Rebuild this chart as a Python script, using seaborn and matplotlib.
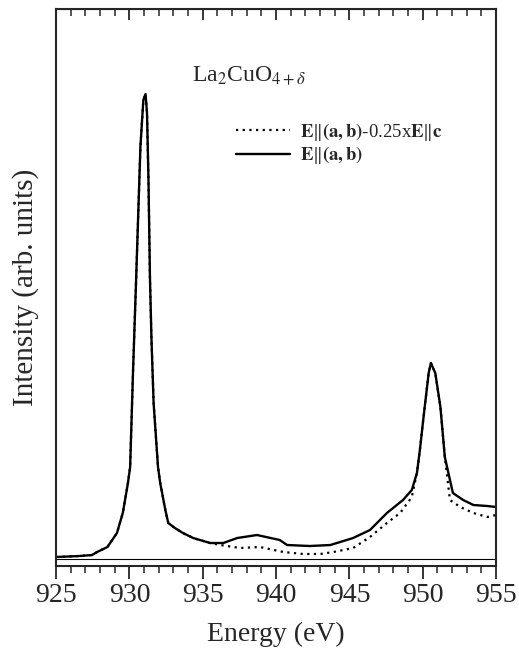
import numpy as np
import pandas as pd
import matplotlib
matplotlib.use("Agg")
import matplotlib.pyplot as plt
import seaborn as sns


# 1 DATA

energy_solid = [925.0, 926.6, 927.45, 927.8, 928.5, 929.15, 929.55, 929.9, 930.05,
                930.25, 930.45, 930.75, 930.95, 931.1, 931.2, 931.3, 931.4, 931.5,
                931.65, 931.95, 932.1, 932.45, 932.65, 933.1, 933.65, 934.35, 935.5,
                936.4, 937.35, 938.7, 940.25, 940.75, 942.3, 943.7, 945.25, 946.4,
                947.55, 948.65, 949.25, 949.6, 949.8, 950.05, 950.4, 950.55, 950.85,
                951.2, 951.5, 952.05, 952.75, 953.45, 954.4, 955.0]
intensity_solid = [2, 3, 4, 7, 12, 26, 46, 76, 92,
                   189, 276, 412, 459, 465, 446, 379, 282, 222,
                   156, 92, 76, 49, 36, 31, 26, 21, 16,
                   16, 21, 24, 19, 14, 13, 14, 21, 29,
                   46, 59, 69, 86, 109, 142, 186, 196, 186,
                   152, 102, 66, 59, 54, 53, 52]

energy_diff = [925.0, 926.6, 927.45, 927.8, 928.5, 929.15, 929.55, 929.9, 930.05,
               930.25, 930.45, 930.75, 930.95, 931.1, 931.2, 931.3, 931.4, 931.5,
               931.65, 931.95, 932.1, 932.45, 932.65, 933.1, 933.65, 934.35, 935.5,
               936.2, 937.55, 938.9, 940.5, 941.85, 943.0, 943.9, 945.25, 946.4,
               947.55, 948.45, 949.25, 949.6, 949.8, 950.05, 950.4, 950.55, 950.85,
               951.2, 951.5, 951.85, 952.55, 953.45, 954.4, 955.0]
intensity_diff = [2, 3, 4, 7, 12, 26, 46, 76, 92,
                  189, 276, 412, 459, 465, 446, 379, 282, 222,
                  156, 92, 76, 49, 36, 31, 26, 21, 16,
                  14, 11, 12, 7, 5, 5, 7, 11, 22,
                  36, 46, 62, 86, 109, 142, 186, 196, 186,
                  152, 102, 59, 52, 46, 42, 44]

label_diff = r"$\mathbf{E}\Vert\mathbf{(a,b)}$-0.25x$\mathbf{E}\Vert\mathbf{c}$"
label_solid = r"$\mathbf{E}\Vert\mathbf{(a,b)}$"


# 2 STYLE

sns.set_style("ticks")
plt.rcParams["font.family"] = ["Liberation Serif", "DejaVu Serif"]
plt.rcParams["mathtext.fontset"] = "stix"


# 3 PLOT

fig = plt.figure(figsize=(5.19, 6.61), dpi=100)
ax = fig.add_axes([0.108, 0.1437, 0.848, 0.8427])

sns.lineplot(x=energy_diff, y=intensity_diff, ax=ax, color="black",
             linestyle=(0, (1, 2)), linewidth=1.6, label=label_diff)
sns.lineplot(x=energy_solid, y=intensity_solid, ax=ax, color="black",
             linewidth=1.7, label=label_solid)

ax.axhline(0, color="black", linewidth=0.8)

ax.set_xlim(925, 955)
ax.set_ylim(-7, 550)
ax.set_xticks(np.arange(925, 956, 5))
ax.set_xticks(np.arange(925, 956, 1), minor=True)
ax.set_yticks([])
ax.tick_params(axis="x", which="major", direction="out", length=9, width=1.3,
               labelsize=20, pad=3)
ax.tick_params(axis="x", which="minor", direction="out", length=5, width=1.1)

top = ax.secondary_xaxis("top")
top.set_xticks(np.arange(925, 956, 5))
top.set_xticks(np.arange(925, 956, 1), minor=True)
top.tick_params(axis="x", which="major", direction="in", length=8, width=1.3,
                labeltop=False)
top.tick_params(axis="x", which="minor", direction="in", length=5, width=1.1)

for s in ax.spines.values():
    s.set_linewidth(1.5)

ax.set_xlabel("Energy (eV)", fontsize=20, labelpad=10)
ax.set_ylabel("Intensity (arb. units)", fontsize=21, labelpad=12)

ax.text(0.31, 0.87, r"La$_2$CuO$_{4+\delta}$", transform=ax.transAxes,
        fontsize=17)

ax.legend(loc="upper left", bbox_to_anchor=(0.37, 0.83), frameon=False,
          fontsize=13.5, handlelength=2.9, handletextpad=0.5, labelspacing=0.1)

fig.savefig("out.png", dpi=100)
